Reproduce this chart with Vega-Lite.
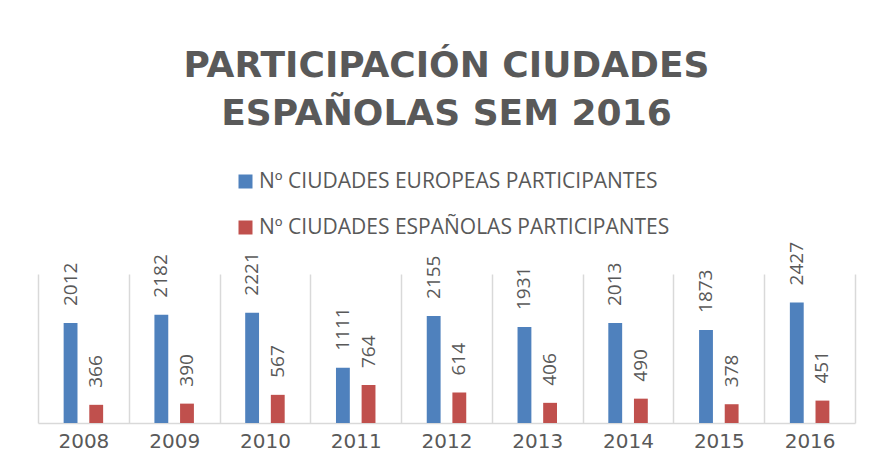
{
  "$schema": "https://vega.github.io/schema/vega-lite/v6.json",
  "width": 817,
  "height": 149,
  "autosize": {"type": "none"},
  "padding": {"left": 38, "top": 274, "right": 17, "bottom": 50},
  "title": {
    "text": ["PARTICIPACIÓN CIUDADES", "ESPAÑOLAS SEM 2016"],
    "font": "DejaVu Sans",
    "fontSize": 36,
    "fontWeight": "bold",
    "color": "#595959",
    "anchor": "middle",
    "lineHeight": 48,
    "offset": 38
  },
  "data": {
    "values": [
      {"year": "2008", "serie": "Nº CIUDADES EUROPEAS PARTICIPANTES", "value": 2012},
      {"year": "2008", "serie": "Nº CIUDADES ESPAÑOLAS PARTICIPANTES", "value": 366},
      {"year": "2009", "serie": "Nº CIUDADES EUROPEAS PARTICIPANTES", "value": 2182},
      {"year": "2009", "serie": "Nº CIUDADES ESPAÑOLAS PARTICIPANTES", "value": 390},
      {"year": "2010", "serie": "Nº CIUDADES EUROPEAS PARTICIPANTES", "value": 2221},
      {"year": "2010", "serie": "Nº CIUDADES ESPAÑOLAS PARTICIPANTES", "value": 567},
      {"year": "2011", "serie": "Nº CIUDADES EUROPEAS PARTICIPANTES", "value": 1111},
      {"year": "2011", "serie": "Nº CIUDADES ESPAÑOLAS PARTICIPANTES", "value": 764},
      {"year": "2012", "serie": "Nº CIUDADES EUROPEAS PARTICIPANTES", "value": 2155},
      {"year": "2012", "serie": "Nº CIUDADES ESPAÑOLAS PARTICIPANTES", "value": 614},
      {"year": "2013", "serie": "Nº CIUDADES EUROPEAS PARTICIPANTES", "value": 1931},
      {"year": "2013", "serie": "Nº CIUDADES ESPAÑOLAS PARTICIPANTES", "value": 406},
      {"year": "2014", "serie": "Nº CIUDADES EUROPEAS PARTICIPANTES", "value": 2013},
      {"year": "2014", "serie": "Nº CIUDADES ESPAÑOLAS PARTICIPANTES", "value": 490},
      {"year": "2015", "serie": "Nº CIUDADES EUROPEAS PARTICIPANTES", "value": 1873},
      {"year": "2015", "serie": "Nº CIUDADES ESPAÑOLAS PARTICIPANTES", "value": 378},
      {"year": "2016", "serie": "Nº CIUDADES EUROPEAS PARTICIPANTES", "value": 2427},
      {"year": "2016", "serie": "Nº CIUDADES ESPAÑOLAS PARTICIPANTES", "value": 451}
    ]
  },
  "encoding": {
    "x": {
      "field": "year",
      "type": "nominal",
      "scale": {"paddingInner": 0, "paddingOuter": 0},
      "axis": {
        "title": null,
        "labelAngle": 0,
        "labelFont": "DejaVu Sans",
        "labelFontSize": 20,
        "labelColor": "#595959",
        "labelPadding": 8,
        "ticks": false,
        "domainColor": "#d9d9d9",
        "domainWidth": 1.5,
        "grid": true,
        "gridColor": "#d9d9d9",
        "gridWidth": 1.5,
        "tickBand": "extent"
      }
    },
    "xOffset": {
      "field": "serie",
      "sort": ["Nº CIUDADES EUROPEAS PARTICIPANTES", "Nº CIUDADES ESPAÑOLAS PARTICIPANTES"],
      "scale": {"paddingInner": 0.46, "paddingOuter": 1.16}
    },
    "y": {
      "field": "value",
      "type": "quantitative",
      "scale": {"domain": [0, 3000]},
      "axis": null
    }
  },
  "layer": [
    {
      "mark": {"type": "bar"},
      "encoding": {
        "color": {
          "field": "serie",
          "type": "nominal",
          "sort": ["Nº CIUDADES EUROPEAS PARTICIPANTES", "Nº CIUDADES ESPAÑOLAS PARTICIPANTES"],
          "scale": {"range": ["#4f81bd", "#c0504d"]},
          "legend": {
            "title": null,
            "orient": "none",
            "direction": "vertical",
            "legendX": 197,
            "legendY": -103,
            "labelFont": "Open Sans",
            "labelFontSize": 21,
            "labelColor": "#595959",
            "labelLimit": 700,
            "labelOffset": 3,
            "symbolType": "square",
            "symbolSize": 196,
            "symbolStrokeWidth": 0,
            "rowPadding": 24
          }
        }
      }
    },
    {
      "mark": {
        "type": "text",
        "angle": 270,
        "align": "left",
        "baseline": "middle",
        "dx": 17,
        "font": "Open Sans",
        "fontSize": 19,
        "color": "#595959"
      },
      "encoding": {
        "text": {"field": "value", "type": "quantitative", "format": "d"}
      }
    }
  ],
  "config": {"view": {"stroke": null}}
}
